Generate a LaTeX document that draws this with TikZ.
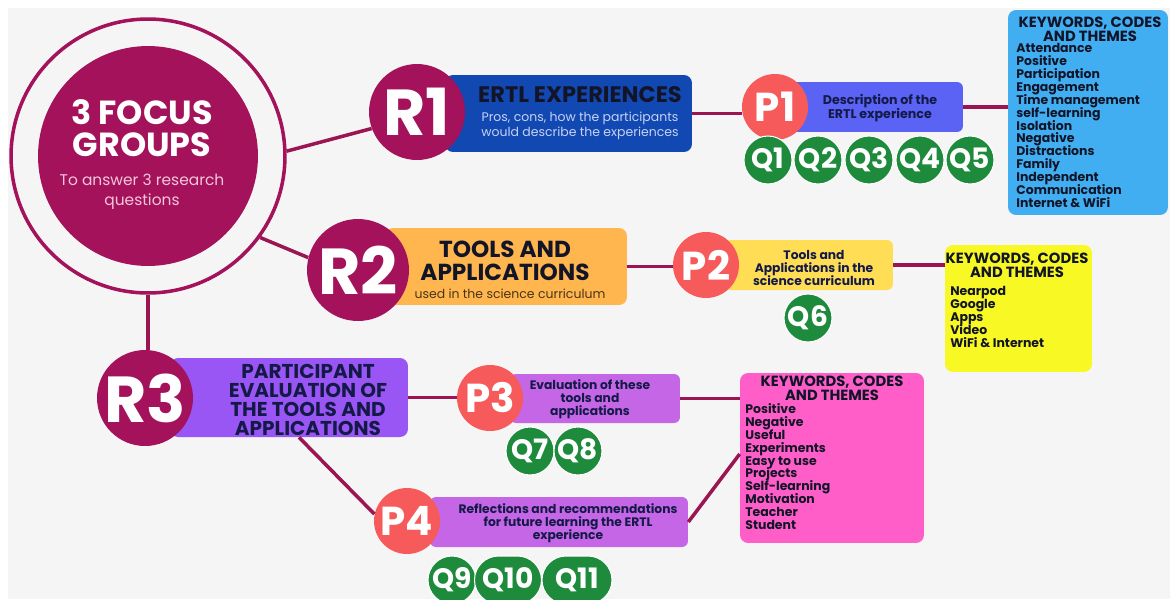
\documentclass[tikz,border=0pt]{standalone}
\usepackage{fontspec}
\setmainfont{Poppins}

\definecolor{bgc}{HTML}{F5F5F5}
\definecolor{crim}{HTML}{A3125A}
\definecolor{linkc}{HTML}{9A1552}
\definecolor{coral}{HTML}{F65A5A}
\definecolor{qgreen}{HTML}{1E8A3C}
\definecolor{blueb}{HTML}{1248B2}
\definecolor{periw}{HTML}{5A63F4}
\definecolor{skyb}{HTML}{42AEF2}
\definecolor{orangeb}{HTML}{FFB64E}
\definecolor{yellowp}{HTML}{FFDD55}
\definecolor{yellowk}{HTML}{F8F824}
\definecolor{violetb}{HTML}{9A56F4}
\definecolor{orchid}{HTML}{C466E6}
\definecolor{pinkk}{HTML}{FF5EC8}
\definecolor{navy}{HTML}{141A48}
\definecolor{inkc}{HTML}{121528}
\definecolor{palepink}{HTML}{F2C6DC}
\definecolor{paleblue}{HTML}{C6D2F4}
\definecolor{brownt}{HTML}{4A3418}

\newcommand{\tightlines}{\lineskiplimit-20pt\relax}

\tikzset{
  link/.style={draw=linkc, line width=2pt},
  rnode/.style={circle, fill=crim, text=white, inner sep=0pt, minimum size=1.92cm,
    font=\fontsize{37}{37}\selectfont\bfseries},
  pnode/.style={circle, fill=coral, text=white, inner sep=0pt, minimum size=1.32cm,
    font=\fontsize{23}{23}\selectfont\bfseries},
  qnode/.style={circle, fill=qgreen, draw=white, line width=0.6pt, text=white, inner sep=0pt,
    minimum size=0.96cm, font=\fontsize{16}{16}\selectfont\bfseries},
  qpill/.style={qnode, rectangle, rounded corners=0.48cm},
  rbox/.style={rounded corners=0.16cm, inner sep=0pt, minimum height=1.54cm},
  pbox/.style={rounded corners=0.12cm, inner sep=0pt, minimum height=1cm},
  ptext/.style={align=center, inner sep=0pt, text=navy,
    font=\fontsize{7.0}{7.4}\selectfont\bfseries\tightlines},
  kwbox/.style={rounded corners=0.16cm, inner sep=0pt},
  kwhead/.style={align=center, inner sep=0pt, text=inkc,
    font=\fontsize{8.4}{8.2}\selectfont\bfseries\tightlines},
  kwlist/.style={align=left, inner sep=0pt, text=inkc,
    font=\fontsize{7.1}{7.35}\selectfont\bfseries\tightlines}
}

\begin{document}
\begin{tikzpicture}[x=0.02cm, y=-0.02cm]
% Background
\useasboundingbox (0,0) rectangle (1170,599);
\fill[white] (0,0) rectangle (1170,599);
\fill[bgc] (8,8) rectangle (1170,599);

% focus groups
\node[circle, draw=crim, line width=2pt, minimum size=5.48cm, inner sep=0pt] (outer) at (148,156) {};
\node[circle, fill=crim, minimum size=4.4cm, inner sep=0pt] (focus) at (148,156) {};
\node[align=center, text=white, inner sep=0pt, font=\fontsize{19}{18.5}\selectfont\bfseries\tightlines] (focustitle) at (142,128) {3 FOCUS\\GROUPS};
\node[align=center, text=palepink, inner sep=0pt, font=\fontsize{8.8}{11.4}\selectfont] (focussub) at (142,192) {To answer 3 research\\questions};

% boxes
\node[rbox, fill=blueb, minimum width=4.94cm] (b1) at (568.5,113.5) {};
\node[rbox, fill=orangeb, minimum width=4.84cm] (b2) at (506,266.5) {};
\node[rbox, fill=violetb, minimum width=4.76cm, minimum height=1.58cm] (b3) at (289,397.5) {};
\node[pbox, fill=periw, minimum width=3.46cm] (p1box) at (876.5,107) {};
\node[pbox, fill=yellowp, minimum width=3.36cm] (p2box) at (809,265) {};
\node[pbox, fill=orchid, minimum width=3.4cm, minimum height=0.98cm] (p3box) at (595,398.5) {};
\node[pbox, fill=orchid, minimum width=5.16cm] (p4box) at (559,522) {};
\node[kwbox, fill=skyb, minimum width=3.2cm, minimum height=4.1cm] (kw1) at (1088,112.5) {};
\node[kwbox, fill=yellowk, minimum width=2.94cm, minimum height=2.54cm] (kw2) at (1018.5,308.5) {};
\node[kwbox, fill=pinkk, minimum width=3.68cm, minimum height=3.4cm] (kw3) at (832,458) {};

% box texts
\node[inner sep=0pt, text=inkc, font=\fontsize{12.8}{10}\selectfont\bfseries] (b1title) at (580,95) {ERTL EXPERIENCES};
\node[align=center, inner sep=0pt, text=paleblue, font=\fontsize{7.1}{8.5}\selectfont\tightlines] (b1sub) at (580,126) {Pros, cons, how the participants\\would describe the experiences};
\node[align=center, inner sep=0pt, text=inkc, font=\fontsize{13.2}{13}\selectfont\bfseries\tightlines] (b2title) at (505,261) {TOOLS AND\\APPLICATIONS};
\node[inner sep=0pt, text=brownt, font=\fontsize{7.1}{8}\selectfont] (b2sub) at (510,294) {used in the science curriculum};
\node[align=center, inner sep=0pt, text=navy, font=\fontsize{11.4}{10.8}\selectfont\bfseries\tightlines] (b3title) at (308,400) {PARTICIPANT\\EVALUATION OF\\THE TOOLS AND\\APPLICATIONS};
\node[ptext, font=\fontsize{7.2}{8}\selectfont\bfseries] (p1text) at (880,108) {Description of the\\ERTL experience};
\node[ptext] (p2text) at (814,268) {Tools and\\Applications in the\\science curriculum};
\node[ptext] (p3text) at (590,399) {Evaluation of these\\tools and\\applications};
\node[ptext] (p4text) at (568,523) {Reflections and recommendations\\for future learning the ERTL\\experience};

% keywords
\node[kwhead] (kw1head) at (1090,29) {KEYWORDS, CODES\\AND THEMES};
\node[kwlist, anchor=north west] (kw1list) at (1016,43) {Attendance\\Positive\\Participation\\Engagement\\Time management\\self-learning\\Isolation\\Negative\\Distractions\\Family\\Independent\\Communication\\Internet \& WiFi};
\node[kwhead] (kw2head) at (1017,265) {KEYWORDS, CODES\\AND THEMES};
\node[kwlist, anchor=north west] (kw2list) at (950,286) {Nearpod\\Google\\Apps\\Video\\WiFi \& Internet};
\node[kwhead] (kw3head) at (832,388) {KEYWORDS, CODES\\AND THEMES};
\node[kwlist, anchor=north west] (kw3list) at (745,403) {Positive\\Negative\\Useful\\Experiments\\Easy to use\\Projects\\Self-learning\\Motivation\\Teacher\\Student};

% R and P circles
\node[rnode] (r1) at (417,112) {R1};
\node[rnode, minimum size=2.04cm] (r2) at (358,270) {R2};
\node[rnode] (r3) at (145,398) {R3};
\node[pnode] (p1) at (775,107) {P1};
\node[pnode] (p2) at (706,265) {P2};
\node[pnode] (p3) at (490,398) {P3};
\node[pnode] (p4) at (407,521) {P4};

% questions
\foreach \n/\qx in {1/768, 2/818, 3/869, 4/920, 5/970}
  \node[qnode] (q\n) at (\qx,160) {Q\n};
\node[qnode] (q6) at (808,318) {Q6};
\node[qnode] (q7) at (530,451) {Q7};
\node[qnode] (q8) at (578,451) {Q8};
\node[qnode] (q9) at (452,580) {Q9};
\node[qpill, minimum width=1.34cm] (q10) at (508,580) {Q10};
\node[qpill, minimum width=1.4cm] (q11) at (577,580) {Q11};

% links
\draw[link] (outer.2) -- (r1.200);
\draw[link] (outer.-36) -- (r2.166);
\draw[link] (outer.south) -- (outer.south |- r3.north);
\draw[link] (b1.east) -- (b1.east -| p1.west);
\draw[link] (p1box.east) -- (p1box.east -| kw1.west);
\draw[link] (b2.east) -- (b2.east -| p2.west);
\draw[link] (p2box.east) -- (p2box.east -| kw2.west);
\draw[link] (b3.east) -- (b3.east -| p3.west);
\draw[link] (p3box.east) -- (p3box.east -| kw3.west);
\draw[link] ([xshift=0.2cm]b3.south) -- (p4.168);
\draw[link] (p4box.east) -- ([yshift=0.08cm]kw3.west);
\end{tikzpicture}
\end{document}
